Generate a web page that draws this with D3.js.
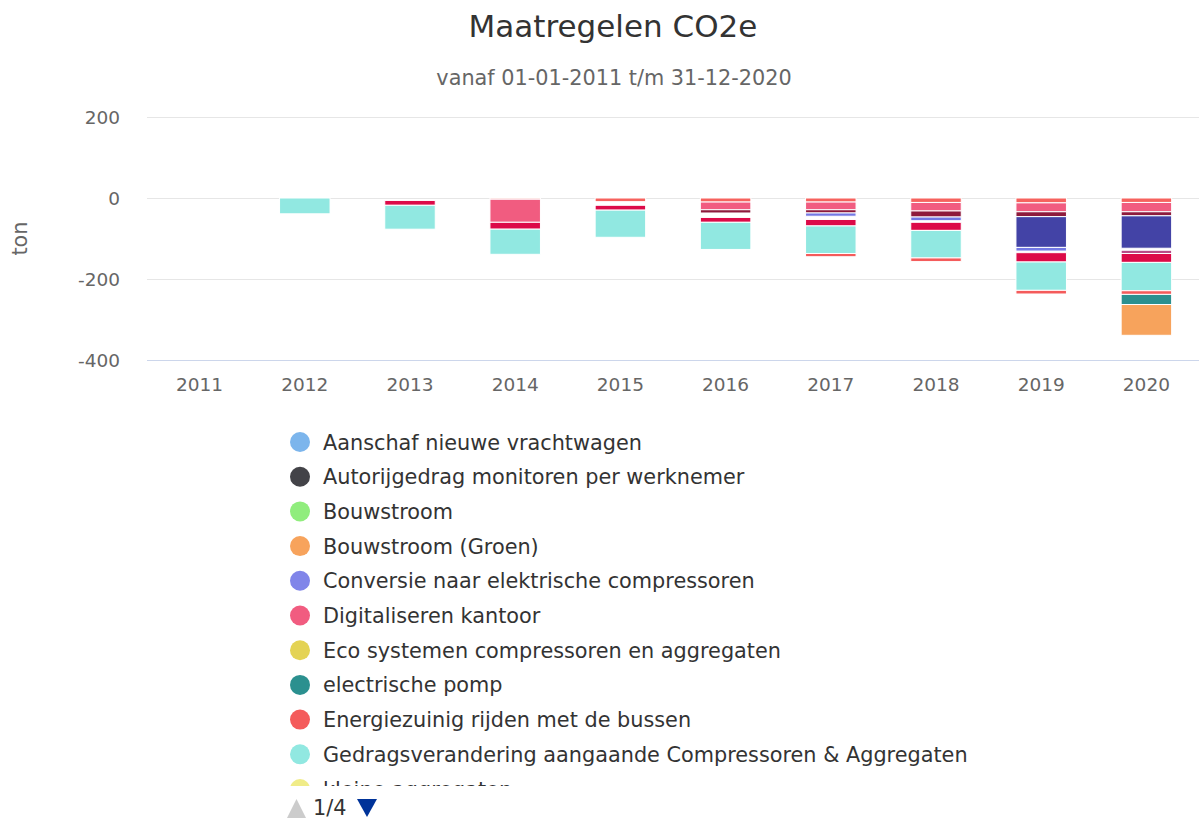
<!DOCTYPE html>
<html>
<head>
    <meta charset="utf-8">
    <script src="https://d3js.org/d3.v7.min.js"></script>
    <style>
        body {
            margin: 0;
            background: white;
            font-family: "DejaVu Sans", sans-serif;
        }
    </style>
</head>
<body>
    <svg id="chart"></svg>
    <script>
        let width = 1199,
            height = 818

        // categories
        const years = ["2011", "2012", "2013", "2014", "2015", "2016", "2017", "2018", "2019", "2020"]

        // series values (ton CO2e), in stack order from 0 downward
        const overigRood = [0, 0, 0, -3, -9, -10, -10, -11, -12, -11]
        const digitaliserenKantoor = [0, 0, 0, -57, 0, -19, -19, -21, -22, -23]
        const overigDonkerrood = [0, 0, 0, 0, 0, -8, -8, -15, -12, -10]
        const overigIndigo = [0, 0, 0, 0, 0, 0, 0, 0, -76, -80]
        const conversieCompressoren = [0, 0, 0, 0, 0, 0, -8, -9, -9, 0]
        const overigKlein = [0, 0, -6, 0, -9, -11, -8, -4, -4, -5]
        const overigPaars = [0, 0, 0, 0, 0, 0, 0, 0, 0, -8]
        const overigKarmijn = [0, 0, -12, -17, -12, -12, -16, -20, -23, -22]
        const gedragsverandering = [0, -39, -59, -62, -67, -67, -68, -68, -70, -70]
        const energiezuinigBussen = [0, 0, 0, 0, 0, 0, -8, -9, -9, -9]
        const electrischePomp = [0, 0, 0, 0, 0, 0, 0, 0, 0, -25]
        const bouwstroomGroen = [0, 0, 0, 0, 0, 0, 0, 0, 0, -76]

        // y axis ticks
        const yTicks = [200, 0, -200, -400]

        // legend (page 1 of 4)
        const legendNames = ["Aanschaf nieuwe vrachtwagen", "Autorijgedrag monitoren per werknemer", "Bouwstroom",
            "Bouwstroom (Groen)", "Conversie naar elektrische compressoren", "Digitaliseren kantoor",
            "Eco systemen compressoren en aggregaten", "electrische pomp", "Energiezuinig rijden met de bussen",
            "Gedragsverandering aangaande Compressoren & Aggregaten", "kleine aggregaten"]
        const legendColors = ["#7cb5ec", "#434348", "#90ed7d", "#f7a35c", "#8085e9", "#f15c80",
            "#e4d354", "#2b908f", "#f45b5b", "#91e8e1", "#f0ec88"]

        const series = [
            { key: "overigRood", values: overigRood, color: "#f6625e" },
            { key: "digitaliserenKantoor", values: digitaliserenKantoor, color: "#f15c80" },
            { key: "overigDonkerrood", values: overigDonkerrood, color: "#8e1a3c" },
            { key: "overigIndigo", values: overigIndigo, color: "#4343a6" },
            { key: "conversieCompressoren", values: conversieCompressoren, color: "#7478e4" },
            { key: "overigKlein", values: overigKlein, color: null },
            { key: "overigPaars", values: overigPaars, color: "#b84a86" },
            { key: "overigKarmijn", values: overigKarmijn, color: "#dc0a48" },
            { key: "gedragsverandering", values: gedragsverandering, color: "#91e8e1" },
            { key: "energiezuinigBussen", values: energiezuinigBussen, color: "#f45b5b" },
            { key: "electrischePomp", values: electrischePomp, color: "#2b908f" },
            { key: "bouwstroomGroen", values: bouwstroomGroen, color: "#f7a35c" }
        ]

        // table for d3.stack
        let table = years.map((y, i) => {
            let row = { year: y }
            series.forEach(s => { row[s.key] = s.values[i] })
            return row
        })

        let svg = d3.select("#chart")
            .attr("width", width)
            .attr("height", height)

        let plotLeft = 147, plotRight = 1199, plotTop = 117, plotBottom = 360

        let x = d3.scaleBand()
            .domain(years)
            .range([plotLeft, plotRight])

        let y = d3.scaleLinear()
            .domain([-400, 200])
            .range([plotBottom, plotTop])

        // titles
        svg.append("text")
            .attr("x", 613).attr("y", 37)
            .attr("text-anchor", "middle")
            .attr("font-size", 31)
            .attr("fill", "#333333")
            .text("Maatregelen CO2e")

        svg.append("text")
            .attr("x", 614).attr("y", 85)
            .attr("text-anchor", "middle")
            .attr("font-size", 20.8)
            .attr("fill", "#666666")
            .text("vanaf 01-01-2011 t/m 31-12-2020")

        // grid lines
        svg.append("g")
            .selectAll("line")
            .data(yTicks)
            .enter()
            .append("line")
            .attr("x1", plotLeft).attr("x2", plotRight)
            .attr("y1", d => Math.round(y(d)) + 0.5)
            .attr("y2", d => Math.round(y(d)) + 0.5)
            .attr("stroke", d => d === -400 ? "#ccd6eb" : "#e6e6e6")
            .attr("stroke-width", 1)

        // y axis labels
        svg.append("g")
            .selectAll("text")
            .data(yTicks)
            .enter()
            .append("text")
            .attr("x", 120)
            .attr("y", d => y(d) + 6.5)
            .attr("text-anchor", "end")
            .attr("font-size", 18.5)
            .attr("fill", "#666666")
            .text(d => d)

        svg.append("text")
            .attr("transform", "translate(27," + ((plotTop + plotBottom) / 2) + ") rotate(-90)")
            .attr("text-anchor", "middle")
            .attr("font-size", 20.8)
            .attr("fill", "#666666")
            .text("ton")

        // x axis labels
        svg.append("g")
            .selectAll("text")
            .data(years)
            .enter()
            .append("text")
            .attr("x", d => x(d) + x.bandwidth() / 2)
            .attr("y", 391)
            .attr("text-anchor", "middle")
            .attr("font-size", 18.5)
            .attr("fill", "#666666")
            .text(d => d)

        // stacked bars
        let stacked = d3.stack()
            .keys(series.map(s => s.key))
            .offset(d3.stackOffsetDiverging)(table)

        let barWidth = x.bandwidth() * 0.6 * 0.8

        stacked.forEach((layer, li) => {
            let s = series[li]
            if (!s.color) return // small items without visible fill
            svg.append("g")
                .selectAll("rect")
                .data(layer.filter(d => d[1] - d[0] !== 0))
                .enter()
                .append("rect")
                .attr("x", d => x(d.data.year) + (x.bandwidth() - barWidth) / 2)
                .attr("y", d => y(d[1]))
                .attr("width", barWidth)
                .attr("height", d => y(d[0]) - y(d[1]))
                .attr("fill", s.color)
                .attr("stroke", "#ffffff")
                .attr("stroke-width", 1)
        })

        // legend
        svg.append("defs")
            .append("clipPath")
            .attr("id", "legendClip")
            .append("rect")
            .attr("x", 270).attr("y", 420)
            .attr("width", 900).attr("height", 366)

        let legend = svg.append("g").attr("clip-path", "url(#legendClip)")
        let rowStep = 34.7

        let items = legend.selectAll("g")
            .data(legendNames)
            .enter()
            .append("g")
            .attr("transform", (d, i) => "translate(0," + (442 + i * rowStep) + ")")

        items.append("circle")
            .attr("cx", 300).attr("cy", 0).attr("r", 10)
            .attr("fill", (d, i) => legendColors[i])

        items.append("text")
            .attr("x", 323).attr("y", 7.5)
            .attr("font-size", 20.8)
            .attr("fill", "#333333")
            .text(d => d)

        // legend navigation
        svg.append("path")
            .attr("d", "M287,818 L296.5,799 L306,818 Z")
            .attr("fill", "#cccccc")
        svg.append("text")
            .attr("x", 313).attr("y", 815)
            .attr("font-size", 20.8)
            .attr("fill", "#333333")
            .text("1/4")
        svg.append("path")
            .attr("d", "M357,799 L377,799 L367,817 Z")
            .attr("fill", "#003399")
    </script>
</body>
</html>
